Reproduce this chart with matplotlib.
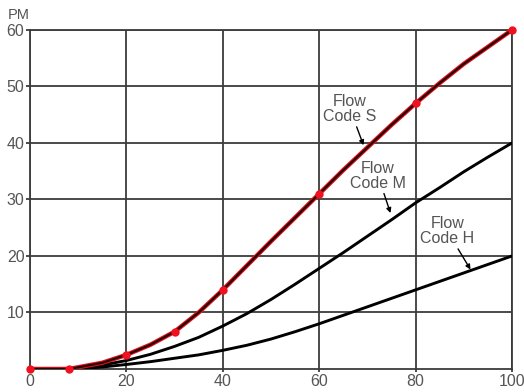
import matplotlib
matplotlib.use("Agg")
import matplotlib.pyplot as plt

plt.rcParams['font.family'] = ['Liberation Sans', 'DejaVu Sans']

# Flow (%) along the x axis
flow = [0, 8, 10, 15, 20, 25, 30, 35, 40, 45, 50, 55, 60, 65, 70, 75, 80, 85, 90, 95, 100]

# Speed curves for the three flow codes
code_s = [0, 0, 0.3, 1.1, 2.5, 4.3, 6.6, 10, 14, 18.3, 22.6, 26.8, 31, 35.2, 39.2, 43.2, 47, 50.6, 54, 57, 60]
code_m = [0, 0, 0.15, 0.7, 1.5, 2.6, 4, 5.6, 7.6, 9.8, 12.3, 15, 17.8, 20.6, 23.5, 26.4, 29.4, 32.1, 34.9, 37.5, 40]
code_h = [0, 0, 0.05, 0.35, 0.8, 1.3, 1.9, 2.5, 3.3, 4.2, 5.3, 6.6, 8, 9.5, 11, 12.5, 14, 15.5, 17, 18.5, 20]

# Measured points on the Code S curve
pts_x = [0, 8, 20, 30, 40, 60, 80, 100]
pts_y = [0, 0, 2.5, 6.6, 14, 31, 47, 60]

x_ticks = [0, 20, 40, 60, 80, 100]
y_ticks = [10, 20, 30, 40, 50, 60]
y_labels = ['10', '20', '30', '40', '50', '60']

grid_col = '#3c3c3c'
text_col = '#555555'

fig = plt.figure(figsize=(5.24, 3.92), dpi=100)
ax = fig.add_axes([0.0573, 0.0587, 0.9197, 0.8648])
ax.set_xlim(0, 100)
ax.set_ylim(0, 60)

ax.set_xticks(x_ticks)
ax.set_yticks(y_ticks)
ax.set_yticklabels(y_labels)
ax.grid(True, color=grid_col, linewidth=1.3)
ax.set_axisbelow(True)
for sp in ax.spines.values():
    sp.set_color(grid_col)
    sp.set_linewidth(1.3)
ax.tick_params(axis='both', colors=grid_col, width=1.3, length=3,
               labelsize=11.5, labelcolor=text_col)
ax.tick_params(axis='y', pad=1)
ax.tick_params(axis='x', length=2, pad=1.5)

ax.plot(flow, code_h, color='black', linewidth=2.1, solid_capstyle='round', zorder=3)
ax.plot(flow, code_m, color='black', linewidth=2.1, solid_capstyle='round', zorder=3)
ax.plot(flow, code_s, color='#e0101a', linewidth=3.2, zorder=3)
ax.plot(flow, code_s, color='#2a0505', linewidth=1.6, zorder=4)
ax.plot(pts_x, pts_y, linestyle='none', marker='o', markersize=6,
        color='#f01020', markeredgewidth=0, zorder=5, clip_on=False)

arrow = dict(arrowstyle='-|>', color='black', linewidth=1.0,
             mutation_scale=7, shrinkA=0, shrinkB=0)
ax.annotate('Flow\nCode S', xy=(69.2, 39.6), xytext=(66.4, 46),
            ha='center', va='center', fontsize=11.5, color=text_col,
            linespacing=1.0, arrowprops=arrow, zorder=6)
ax.annotate('Flow\nCode M', xy=(74.8, 27.6), xytext=(72.2, 34.2),
            ha='center', va='center', fontsize=11.5, color=text_col,
            linespacing=1.0, arrowprops=arrow, zorder=6)
ax.annotate('Flow\nCode H', xy=(91.4, 17.6), xytext=(86.6, 24.4),
            ha='center', va='center', fontsize=11.5, color=text_col,
            linespacing=1.0, arrowprops=arrow, zorder=6)

fig.text(8 / 524, 1 - 15 / 392, 'PM', ha='left', va='center',
         fontsize=10.5, color=text_col)

fig.savefig('out.png', dpi=100, facecolor='white')
